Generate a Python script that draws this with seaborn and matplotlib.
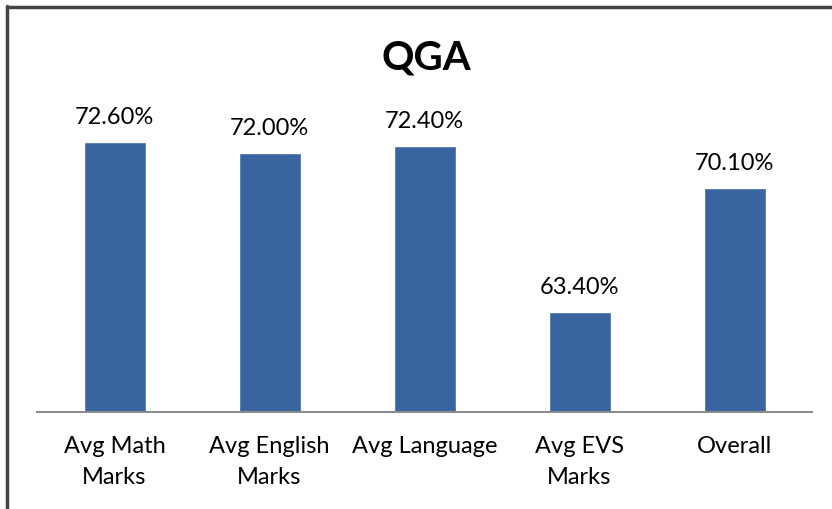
import matplotlib
matplotlib.use("Agg")
import matplotlib.pyplot as plt
from matplotlib.lines import Line2D
import seaborn as sns
import pandas as pd

categories = ["Avg Math\nMarks", "Avg English\nMarks", "Avg Language", "Avg EVS\nMarks", "Overall"]
values = [72.6, 72.0, 72.4, 63.4, 70.1]
title = "QGA"

sns.set_style("white")
plt.rcParams['font.family'] = ['Lato', 'DejaVu Sans']
plt.rcParams['text.color'] = 'black'

df = pd.DataFrame({"cat": categories, "val": values})

W, H = 832, 509
fig = plt.figure(figsize=(W / 100, H / 100), dpi=100)
ax = fig.add_axes([37 / W, (H - 412) / H, (812 - 37) / W, (412 - 116) / H])

sns.barplot(data=df, x="cat", y="val", color="#3A64A0", width=0.4, saturation=1, ax=ax)
ax.set_ylim(58, 74)
ax.set_xlim(-0.5, len(categories) - 0.5)
ax.set_xlabel("")
ax.set_ylabel("")
ax.set_yticks([])
for s in ["top", "right", "left"]:
    ax.spines[s].set_visible(False)
ax.spines["bottom"].set_color("#8c8c8c")
ax.spines["bottom"].set_linewidth(1.5)
ax.tick_params(axis="x", length=0, pad=17, labelsize=17, colors="black")
for lab in ax.get_xticklabels():
    lab.set_linespacing(1.6)
    lab.set_verticalalignment("top")

for i, v in enumerate(values):
    ax.annotate(f"{v:.2f}%", (i, v), xytext=(0, 10), textcoords="offset points",
                ha="center", va="bottom", fontsize=17, color="black")

fig.text(426 / W, 1 - 58 / H, title, ha="center", va="center", fontsize=29,
         fontweight="bold", color="black")

fig.add_artist(Line2D([7.5 / W, 7.5 / W], [0, 1 - 6 / H], color="#444444", linewidth=2.5, transform=fig.transFigure))
fig.add_artist(Line2D([6.5 / W, 1], [1 - 6.5 / H, 1 - 6.5 / H], color="#444444", linewidth=2.5, transform=fig.transFigure))

fig.savefig("out.png", dpi=100)
